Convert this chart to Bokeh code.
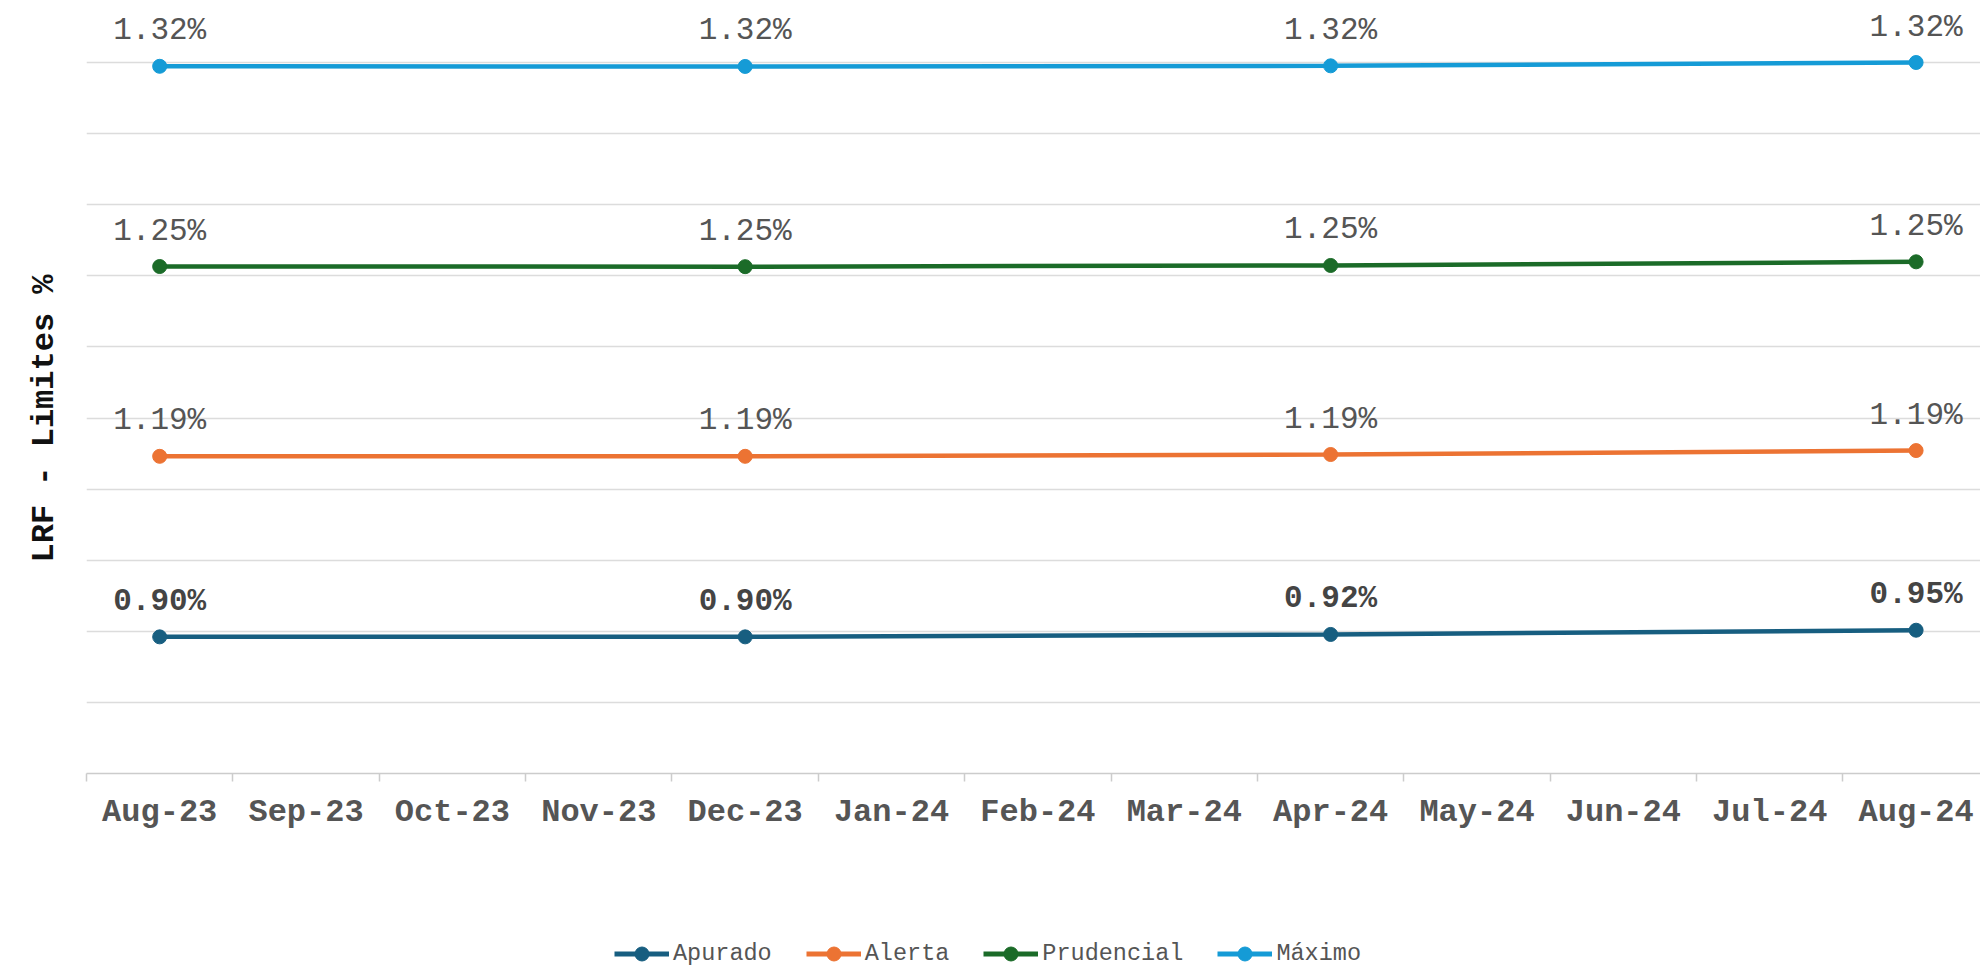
import numpy as np
from bokeh.plotting import figure
from bokeh.layouts import column
from bokeh.models import (ColumnDataSource, FixedTicker, LabelSet, Legend, LegendItem,
                          Range1d, Title)
from bokeh.core.properties import value
from bokeh.embed import file_html
from bokeh.resources import INLINE

# ---- data ----
months = ["Aug-23", "Sep-23", "Oct-23", "Nov-23", "Dec-23", "Jan-24", "Feb-24",
          "Mar-24", "Apr-24", "May-24", "Jun-24", "Jul-24", "Aug-24"]
dates = ["Aug-23", "Dec-23", "Apr-24", "Aug-24"]
series_names = ["Apurado", "Alerta", "Prudencial", "Máximo"]
apurado = [0.902, 0.902, 0.918, 0.946]
alerta = [1.192, 1.192, 1.188, 1.186]
prudencial = [1.253, 1.252, 1.248, 1.246]
maximo = [1.322, 1.322, 1.318, 1.316]
colors = ["#175e80", "#ec7333", "#1b6b28", "#159bd6"]

FONT = "Liberation Mono"

x = [months.index(d) for d in dates]
vals = np.array([apurado, alerta, prudencial, maximo])
cum = np.cumsum(vals, axis=0)  # stacked lines
ymax = float(cum.max())

# frame spans the full top so the value labels above the top line are not clipped
p = figure(width=1980, height=900, output_backend="svg", toolbar_location=None,
           x_range=Range1d(-0.5, len(months) - 0.56), y_range=Range1d(0, ymax * 773 / 711),
           y_axis_location=None,
           min_border_left=86, min_border_top=0, min_border_bottom=127, min_border_right=0)
p.outline_line_color = None
p.background_fill_color = "white"
p.border_fill_color = "white"

# grid
p.xgrid.visible = False
p.ygrid.ticker = FixedTicker(ticks=list(np.linspace(0, ymax, 11)))
p.ygrid.grid_line_color = "#dcdcdc"
p.ygrid.grid_line_width = 1.5

# x axis
p.xaxis.ticker = FixedTicker(ticks=list(range(len(months))),
                             minor_ticks=[i - 0.5 for i in range(len(months) + 1)])
p.xaxis.major_label_overrides = {i: m for i, m in enumerate(months)}
p.xaxis.major_tick_line_color = None
p.xaxis.minor_tick_out = 8
p.xaxis.minor_tick_in = 0
p.xaxis.minor_tick_line_color = "#cccccc"
p.xaxis.minor_tick_line_width = 1.5
p.xaxis.axis_line_color = "#cccccc"
p.xaxis.axis_line_width = 1.5
p.xaxis.major_label_text_font = FONT
p.xaxis.major_label_text_font_style = "bold"
p.xaxis.major_label_text_font_size = "32px"
p.xaxis.major_label_text_color = "#555555"
p.xaxis.major_label_standoff = 12

# y axis title, positioned along the gridded area
ytitle = Title(text="LRF - Limites %", align="left", vertical_align="middle",
               offset=211, standoff=46,
               text_font=FONT, text_font_style="bold", text_font_size="32px",
               text_color="#111111")
p.add_layout(ytitle, "left")

# legend strip (separate figure so the legend is not clipped by the plot frame)
pl = figure(width=1980, height=66, output_backend="svg", toolbar_location=None,
            x_range=Range1d(-0.5, len(months) - 0.56), y_range=Range1d(-2, -1),
            x_axis_location=None, y_axis_location=None,
            min_border_left=0, min_border_right=0, min_border_top=0, min_border_bottom=0)
pl.outline_line_color = None
pl.xgrid.visible = False
pl.ygrid.visible = False

items = []
for i, name in enumerate(series_names):
    src = ColumnDataSource(dict(x=x, y=cum[i], text=[f"{v:.2f}%" for v in vals[i]]))
    p.line("x", "y", source=src, line_color=colors[i], line_width=4.5)
    p.scatter("x", "y", source=src, size=14, fill_color=colors[i], line_color=colors[i])
    lbl = LabelSet(x="x", y="y", text="text", source=src, y_offset=18,
                   text_align="center", text_baseline="bottom",
                   text_font=value(FONT), text_font_size="31px",
                   text_color="#444444" if i == 0 else "#555555",
                   text_font_style="bold" if i == 0 else "normal")
    p.add_layout(lbl)
    # legend swatches (same data, out of this strip's view)
    rl = pl.line("x", "y", source=src, line_color=colors[i], line_width=5)
    rs = pl.scatter("x", "y", source=src, size=14, fill_color=colors[i], line_color=colors[i])
    items.append(LegendItem(label=name, renderers=[rl, rs]))

legend = Legend(items=items, orientation="horizontal", location=(528, -5),
                glyph_width=55, glyph_height=35, label_standoff=4, spacing=34,
                padding=0, margin=0, border_line_color=None, background_fill_alpha=0,
                label_text_font=FONT, label_text_font_size="23.5px", label_text_color="#555555")
pl.add_layout(legend)

layout = column(p, pl, spacing=0)
open("out.html", "w").write(file_html(layout, INLINE))
